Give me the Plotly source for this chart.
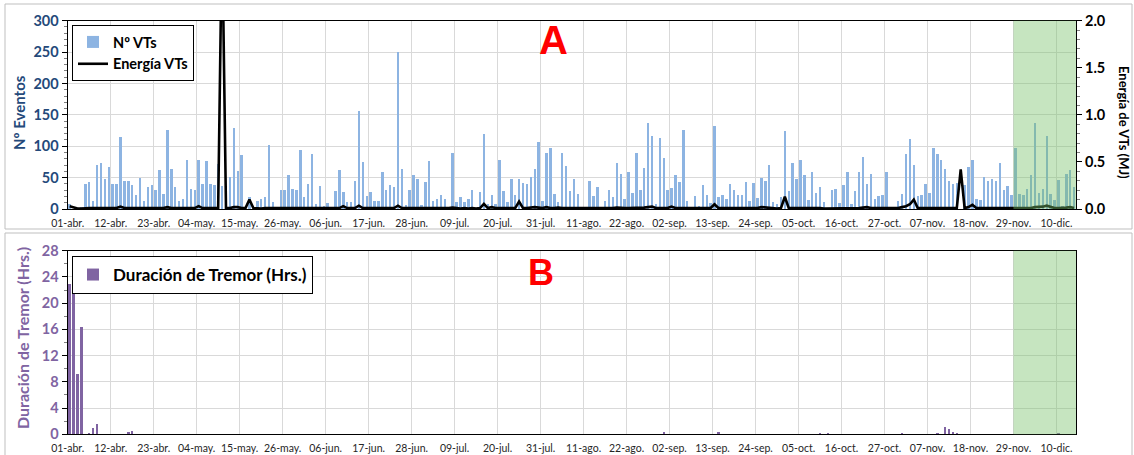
import pandas as pd
import plotly.graph_objects as go

# ---------------- data ----------------
start_date = "2021-04-01"
n_days = 258

tick_labels = ["01-abr.", "12-abr.", "23-abr.", "04-may.", "15-may.", "26-may.",
               "06-jun.", "17-jun.", "28-jun.", "09-jul.", "20-jul.", "31-jul.",
               "11-ago.", "22-ago.", "02-sep.", "13-sep.", "24-sep.", "05-oct.",
               "16-oct.", "27-oct.", "07-nov.", "18-nov.", "29-nov.", "10-dic."]

n_vts = [
    8, 0, 0, 4, 41, 44, 14, 70, 74, 49,
    68, 41, 41, 115, 45, 45, 38, 22, 50, 13,
    35, 38, 31, 63, 24, 127, 65, 35, 13, 16,
    78, 32, 30, 79, 40, 77, 40, 38, 72, 37,
    0, 52, 130, 61, 87, 0, 20, 0, 13, 17,
    19, 103, 11, 3, 31, 31, 54, 32, 31, 94,
    19, 40, 88, 8, 37, 5, 10, 0, 29, 63,
    27, 11, 11, 45, 157, 75, 21, 27, 14, 14,
    59, 31, 39, 35, 251, 64, 7, 31, 54, 49,
    7, 43, 77, 13, 17, 22, 17, 3, 89, 11,
    19, 11, 17, 31, 0, 28, 120, 8, 22, 8,
    79, 29, 11, 49, 22, 49, 42, 41, 52, 65,
    108, 13, 90, 97, 25, 11, 89, 69, 29, 49,
    24, 0, 0, 45, 21, 36, 0, 13, 31, 19,
    73, 56, 17, 59, 26, 89, 31, 66, 137, 117,
    8, 113, 82, 31, 34, 54, 43, 126, 14, 4,
    21, 6, 38, 22, 10, 132, 19, 23, 16, 41,
    31, 23, 23, 43, 14, 42, 18, 50, 45, 70,
    12, 8, 20, 125, 29, 74, 48, 78, 54, 15,
    60, 26, 36, 12, 0, 30, 33, 10, 38, 60,
    9, 29, 59, 83, 40, 56, 16, 21, 23, 60,
    0, 0, 13, 24, 88, 112, 70, 21, 23, 40,
    26, 98, 88, 79, 64, 45, 41, 42, 0, 39,
    68, 78, 17, 15, 51, 45, 48, 45, 73, 30,
    37, 22, 97, 24, 23, 33, 55, 138, 26, 33,
    117, 24, 15, 47, 5, 57, 62, 35,
]

energy_mj = [
    0.03, 0.02, 0.005, 0.005, 0.01, 0.01, 0.01, 0.01, 0.01, 0.01,
    0.01, 0.01, 0.01, 0.025, 0.01, 0.01, 0.01, 0.01, 0.01, 0.01,
    0.01, 0.01, 0.01, 0.01, 0.01, 0.02, 0.01, 0.01, 0.01, 0.01,
    0.01, 0.01, 0.01, 0.03, 0.01, 0.01, 0.01, 0.01, 0.01, 3.0,
    0.01, 0.01, 0.02, 0.02, 0.01, 0.01, 0.1, 0.01, 0.005, 0.005,
    0.01, 0.01, 0.01, 0.01, 0.005, 0.01, 0.01, 0.01, 0.01, 0.01,
    0.01, 0.01, 0.01, 0.01, 0.01, 0.01, 0.005, 0.005, 0.01, 0.01,
    0.03, 0.01, 0.01, 0.01, 0.035, 0.01, 0.01, 0.01, 0.01, 0.01,
    0.01, 0.01, 0.01, 0.01, 0.035, 0.01, 0.01, 0.01, 0.01, 0.01,
    0.01, 0.01, 0.01, 0.005, 0.005, 0.01, 0.01, 0.01, 0.015, 0.01,
    0.005, 0.01, 0.005, 0.01, 0.005, 0.01, 0.055, 0.01, 0.02, 0.01,
    0.01, 0.01, 0.01, 0.01, 0.01, 0.08, 0.01, 0.01, 0.015, 0.02,
    0.015, 0.01, 0.02, 0.01, 0.01, 0.015, 0.01, 0.01, 0.01, 0.01,
    0.01, 0.005, 0.005, 0.005, 0.005, 0.01, 0.005, 0.005, 0.01, 0.01,
    0.015, 0.01, 0.01, 0.01, 0.01, 0.01, 0.01, 0.015, 0.02, 0.025,
    0.01, 0.01, 0.01, 0.01, 0.025, 0.01, 0.01, 0.01, 0.005, 0.005,
    0.005, 0.005, 0.01, 0.01, 0.01, 0.05, 0.01, 0.01, 0.01, 0.01,
    0.01, 0.01, 0.01, 0.01, 0.01, 0.01, 0.01, 0.02, 0.015, 0.01,
    0.01, 0.005, 0.01, 0.13, 0.01, 0.01, 0.015, 0.01, 0.01, 0.01,
    0.01, 0.01, 0.01, 0.005, 0.005, 0.01, 0.01, 0.005, 0.01, 0.01,
    0.01, 0.01, 0.01, 0.015, 0.02, 0.01, 0.01, 0.01, 0.01, 0.01,
    0.005, 0.005, 0.01, 0.02, 0.03, 0.05, 0.1, 0.01, 0.01, 0.01,
    0.01, 0.01, 0.01, 0.01, 0.01, 0.01, 0.01, 0.01, 0.42, 0.01,
    0.02, 0.045, 0.01, 0.01, 0.01, 0.01, 0.01, 0.01, 0.01, 0.01,
    0.01, 0.01, 0.01, 0.015, 0.01, 0.01, 0.01, 0.02, 0.02, 0.025,
    0.035, 0.02, 0.01, 0.01, 0.01, 0.015, 0.02, 0.01,
]

tremor_dates = ["2021-04-01", "2021-04-02", "2021-04-03", "2021-04-04",
                "2021-04-06", "2021-04-07", "2021-04-08", "2021-04-16",
                "2021-04-17", "2021-04-24", "2021-08-31", "2021-09-14",
                "2021-10-10", "2021-10-12", "2021-10-31", "2021-11-09",
                "2021-11-11", "2021-11-12", "2021-11-13", "2021-11-14",
                "2021-12-10"]
tremor_hours = [23, 21.5, 9.3, 16.4,
                0.3, 1.0, 1.6, 0.4,
                0.5, 0.05, 0.4, 0.35,
                0.1, 0.1, 0.25, 0.2,
                1.2, 0.8, 0.4, 0.2,
                0.15]

shade_start = "2021-11-29"

# ---------------- geometry helpers ----------------
W, H = 1134, 455
def px(x):
    return x / W
def py(y):
    return 1 - y / H

days = pd.date_range(start_date, periods=n_days, freq="D")
half = pd.Timedelta(hours=12)
x_mid = days + half
tremor_x = pd.to_datetime(tremor_dates) + half
tick_dates = pd.date_range(start_date, periods=len(tick_labels), freq="11D")
x_range = [days[0], days[-1] + pd.Timedelta(days=1)]
bar_w = 0.5 * 86400000

FONT = "Lato, 'Open Sans', sans-serif"
BLUE_T = "#24497A"
PURPLE = "#8064A2"
GRID = "#D9D9D9"

fig = go.Figure()
fig.add_trace(go.Bar(x=x_mid, y=n_vts, name="Nº VTs", marker_color="#8DB4E2",
                     marker_line_width=0, width=bar_w, xaxis="x", yaxis="y",
                     legend="legend"))
fig.add_trace(go.Scatter(x=x_mid, y=energy_mj, name="Energía VTs", mode="lines",
                         line=dict(color="black", width=2.6), xaxis="x", yaxis="y2",
                         legend="legend"))
fig.add_trace(go.Bar(x=tremor_x, y=tremor_hours, name="Duración de Tremor (Hrs.)",
                     marker_color=PURPLE, marker_line_width=0, width=bar_w,
                     xaxis="x2", yaxis="y3", legend="legend2"))

xdom = [px(67.7), px(1076)]
common_x = dict(type="date", range=x_range, domain=xdom, tickmode="array",
                tickvals=tick_dates, ticktext=tick_labels, showgrid=True,
                gridcolor=GRID, gridwidth=1.3, showline=True, linecolor="black",
                linewidth=1.2, mirror=True, ticks="", zeroline=False,
                tickangle=0, automargin=False, ticklabelstandoff=4,
                tickfont=dict(family=FONT, size=10.5, color="#262626"))

fig.update_layout(
    width=W, height=H, margin=dict(l=0, r=0, t=0, b=0),
    paper_bgcolor="white", plot_bgcolor="white", bargap=0,
    font=dict(family=FONT),
    xaxis=dict(anchor="y", **common_x),
    xaxis2=dict(anchor="y3", **common_x),
    yaxis=dict(domain=[py(209), py(20.7)], range=[0, 300], dtick=50,
               showgrid=True, gridcolor=GRID, gridwidth=1.3, zeroline=False,
               showline=True, linecolor="black", linewidth=1.2, automargin=False,
               ticks="outside", ticklen=5, tickcolor="black",
               minor=dict(dtick=10, ticks="outside", ticklen=3, tickcolor="#808080", showgrid=False),
               tickfont=dict(family=FONT, size=14.5, color=BLUE_T, weight="bold")),
    yaxis2=dict(overlaying="y", side="right", anchor="x", range=[0, 2.0], dtick=0.5,
                tickformat=".1f", showgrid=False, zeroline=False, showline=True,
                linecolor="black", linewidth=1.2, ticks="outside", ticklen=5,
                tickcolor="black", automargin=False,
                minor=dict(dtick=0.1, ticks="outside", ticklen=3, tickcolor="#808080"),
                tickfont=dict(family=FONT, size=14.5, color="black", weight="bold")),
    yaxis3=dict(domain=[py(434.3), py(250.7)], anchor="x2", range=[0, 28], dtick=4,
                showgrid=True, gridcolor=GRID, gridwidth=1.3, zeroline=False,
                showline=True, linecolor="black", linewidth=1.2, mirror=True,
                ticks="outside", ticklen=5, tickcolor="black", automargin=False,
                minor=dict(dtick=2, ticks="outside", ticklen=3, tickcolor="#808080", showgrid=False),
                tickfont=dict(family=FONT, size=14.5, color=PURPLE, weight="bold")),
    legend=dict(x=px(72), y=py(25), xanchor="left", yanchor="top",
                bgcolor="white", bordercolor="black", borderwidth=1,
                font=dict(family=FONT, size=14.5, color="black", weight="bold"),
                tracegroupgap=0, itemwidth=30),
    legend2=dict(x=px(72), y=py(256), xanchor="left", yanchor="top",
                 bgcolor="white", bordercolor="black", borderwidth=1,
                 font=dict(family=FONT, size=17, color="black", weight="bold"),
                 itemwidth=30),
    showlegend=True,
)

# shaded (green) period, drawn above the data
for xr, yr in (("x", "y domain"), ("x2", "y3 domain")):
    fig.add_shape(type="rect", xref=xr, yref=yr, x0=shade_start, x1=x_range[1],
                  y0=0, y1=1, fillcolor="rgba(118,192,106,0.42)", line_width=0,
                  layer="above")

# outer chart-area frames
fig.add_shape(type="rect", xref="paper", yref="paper", x0=px(5), x1=px(1132),
              y0=py(229), y1=py(4), line=dict(color="#BFBFBF", width=1), layer="below")
fig.add_shape(type="rect", xref="paper", yref="paper", x0=px(5), x1=px(1132),
              y0=py(470), y1=py(233), line=dict(color="#BFBFBF", width=1), layer="below")

ann = [
    dict(text="<b>A</b>", x=px(553), y=py(40), font=dict(size=40, color="#FF0000", family="Liberation Sans, Arial")),
    dict(text="<b>B</b>", x=px(541), y=py(272), font=dict(size=36, color="#FF0000", family="Liberation Sans, Arial")),
    dict(text="<b>Nº Eventos</b>", x=px(19), y=py(113), textangle=-90,
         font=dict(size=15, color=BLUE_T, family=FONT)),
    dict(text="<b>Energía de VTs (MJ)</b>", x=px(1124), y=py(122), textangle=90,
         font=dict(size=13, color="black", family=FONT)),
    dict(text="<b>Duración de Tremor (Hrs.)</b>", x=px(22), y=py(338), textangle=-90,
         font=dict(size=16, color=PURPLE, family=FONT)),
]
for a in ann:
    fig.add_annotation(xref="paper", yref="paper", showarrow=False,
                       xanchor="center", yanchor="middle", **a)

fig.write_html("out.html", config={"displayModeBar": False},
               post_script="document.body.style.margin='0px';document.body.style.padding='0px';")
